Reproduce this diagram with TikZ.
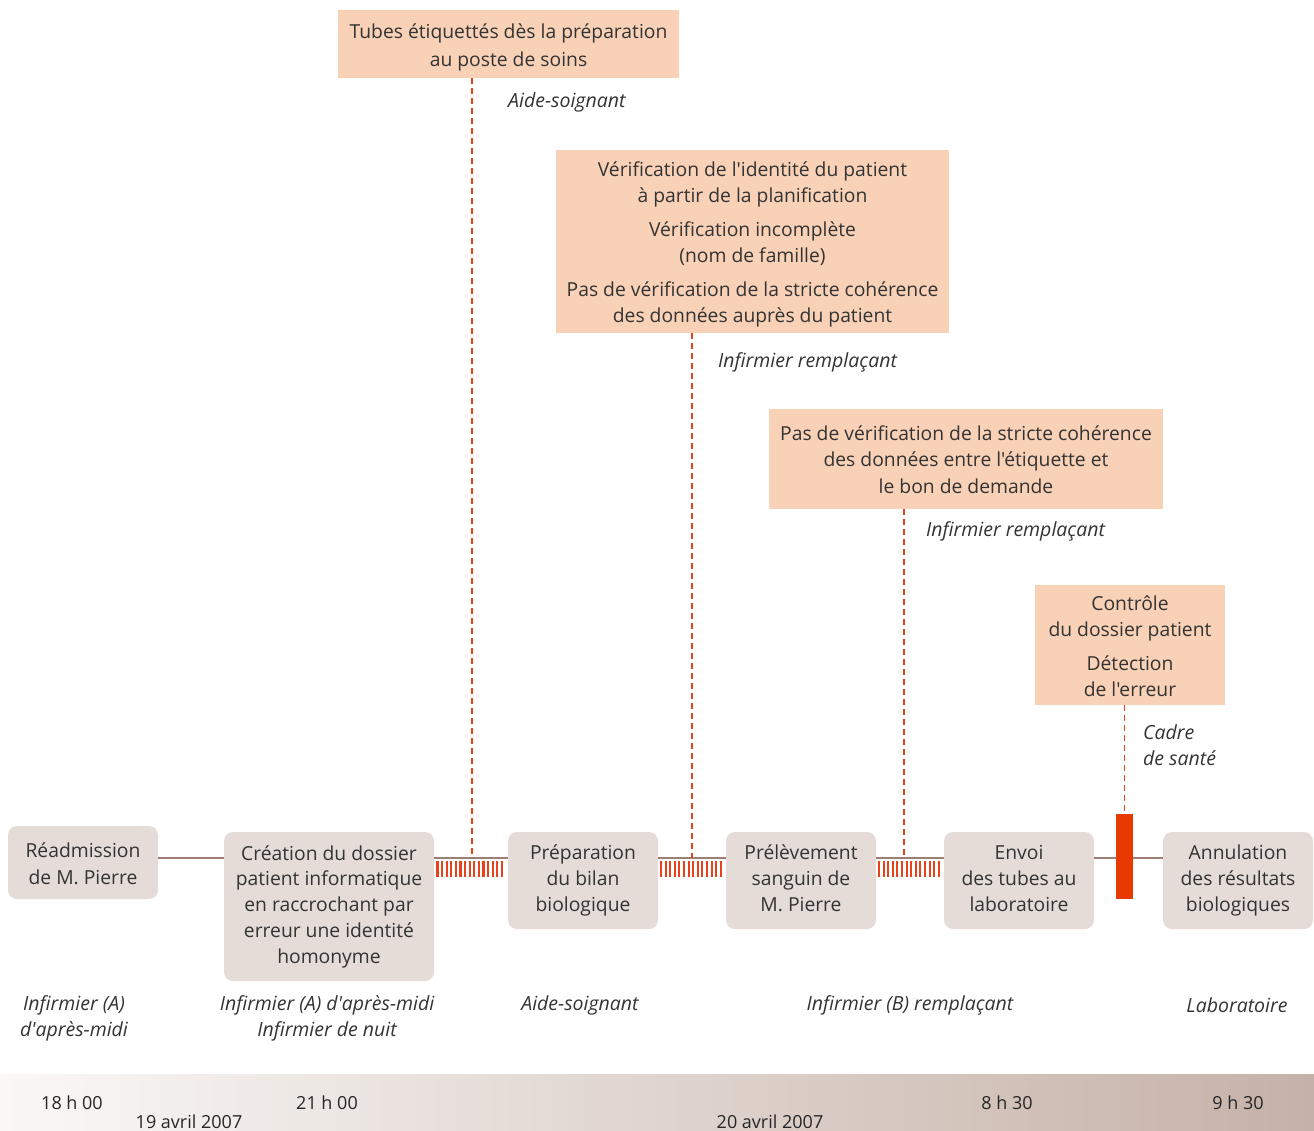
\documentclass[tikz,border=0pt]{standalone}
\usepackage{fontspec}
\setmainfont{Open Sans}[Ligatures=TeXOff]
\usetikzlibrary{calc}
\definecolor{peach}{HTML}{F8D1B7}
\definecolor{greybox}{HTML}{E5DCD8}
\definecolor{txt}{HTML}{333333}
\definecolor{redd}{HTML}{E8411B}
\definecolor{redbar}{HTML}{E83A00}
\definecolor{tline}{HTML}{9E7F75}
\definecolor{gradL}{HTML}{FAF8F7}
\definecolor{gradR}{HTML}{C5B1A7}
\newcommand{\dstrut}{\rule[-4.6pt]{0pt}{26pt}}
\tikzset{
  evbox/.style={fill=peach, text=txt, align=center, inner sep=0pt, font=\fontsize{19.3}{26}\selectfont},
  stepbox/.style={fill=greybox, rounded corners=9pt, text=txt, align=center, inner sep=0pt, minimum width=150pt, font=\fontsize{19.3}{25.7}\selectfont},
  actor/.style={text=txt, font=\fontsize{19.5}{26}\selectfont\itshape, inner sep=0pt},
  tlab/.style={text=black!85, font=\fontsize{18}{20}\selectfont, inner sep=0pt},
  redash/.style={draw=redd, line width=1.3pt, dash pattern=on 6pt off 4pt},
  hatch/.style={draw=redd, line width=2.1pt},
}
\begin{document}
\begin{tikzpicture}[x=1pt,y=-1pt]
\useasboundingbox (0,0) rectangle (1314,1131);
% bottom gradient band
\shade[left color=gradL, right color=gradR] (0,1074) rectangle (1314,1131);
% timeline
\coordinate (tl) at (0,858);
% event boxes
\node[evbox, minimum width=341pt, minimum height=68pt] (e1) at (508.5,44) {\dstrut Tubes étiquettés dès la préparation\\[1pt]au poste de soins\dstrut};
\node[evbox, minimum width=393pt, minimum height=183pt] (e2) at (752.5,241.5) {\dstrut Vérification de l'identité du patient\\à partir de la planification\\[8pt]Vérification incomplète\\(nom de famille)\\[8pt]Pas de vérification de la stricte cohérence\\des données auprès du patient\dstrut};
\node[evbox, minimum width=394pt, minimum height=100pt] (e3) at (966,459) {\dstrut Pas de vérification de la stricte cohérence\\des données entre l'étiquette et\\le bon de demande\dstrut};
\node[evbox, minimum width=190pt, minimum height=120pt] (e4) at (1130,645) {\dstrut Contrôle\\du dossier patient\\[8pt]Détection\\de l'erreur\dstrut};
% actor labels of events
\node[actor, anchor=west] (a1) at (508,102) {Aide-soignant};
\node[actor, anchor=west] (a2) at (718,362) {Infirmier remplaçant};
\node[actor, anchor=west] (a3) at (926,531) {Infirmier remplaçant};
\node[actor, anchor=west, align=left] (a4) at (1143,745) {Cadre\\de santé};
% step boxes
\node[stepbox, minimum height=73pt] (s1) at (83,862.5) {\dstrut Réadmission\\de M. Pierre\dstrut};
\node[stepbox, minimum width=210pt, minimum height=149pt] (s2) at (329,906.5) {\strut Création du dossier\\patient informatique\\en raccrochant par\\erreur une identité\\homonyme\strut};
\node[stepbox, minimum height=97pt] (s3) at (583,880.5) {\strut Préparation\\du bilan\\biologique\strut};
\node[stepbox, minimum height=97pt] (s4) at (801,880.5) {\strut Prélèvement\\sanguin de\\M. Pierre\strut};
\node[stepbox, minimum height=97pt] (s5) at (1019,880.5) {\strut Envoi\\des tubes au\\laboratoire\strut};
\node[stepbox, minimum height=97pt] (s6) at (1238,880.5) {\strut Annulation\\des résultats\\biologiques\strut};
% timeline segments
\draw[tline, line width=2pt] (s1.east |- tl) -- (s2.west |- tl);
\draw[tline, line width=2pt] (s2.east |- tl) -- (s3.west |- tl);
\draw[tline, line width=2pt] (s3.east |- tl) -- (s4.west |- tl);
\draw[tline, line width=2pt] (s4.east |- tl) -- (s5.west |- tl);
\draw[tline, line width=2pt] (s5.east |- tl) -- (s6.west |- tl);
% hatched bands
\foreach \x in {437.5,442.1,...,506} \draw[hatch] (\x,861) -- (\x,877);
\foreach \x in {661,665.6,...,724} \draw[hatch] (\x,861) -- (\x,877);
\foreach \x in {879,883.6,...,942} \draw[hatch] (\x,861) -- (\x,877);
% red bar
\node[fill=redbar, minimum width=17pt, minimum height=85pt, inner sep=0pt] (rb) at (1124.5,856.5) {};
% dashed connectors
\coordinate (c1) at (472,858);
\coordinate (c2) at (692,858);
\coordinate (c3) at (904,858);
\draw[redash] (e1.south -| c1) -- (c1);
\draw[redash] (e2.south -| c2) -- (c2);
\draw[redash] (e3.south -| c3) -- (c3);
\draw[redash] (e4.south -| rb.north) -- (rb.north);
% actor labels of steps
\node[actor, align=center] (b1) at (74,1018) {Infirmier (A)\\d'après-midi};
\node[actor, align=center] (b2) at (327,1018) {Infirmier (A) d'après-midi\\Infirmier de nuit};
\node[actor] (b3) at (580,1005) {Aide-soignant};
\node[actor] (b4) at (910,1005) {Infirmier (B) remplaçant};
\node[actor] (b5) at (1237,1005) {Laboratoire};
% time labels
\node[tlab] (t1) at (72,1103) {18 h 00};
\node[tlab] (d1) at (189,1122) {19 avril 2007};
\node[tlab] (t2) at (327,1103) {21 h 00};
\node[tlab] (d2) at (770,1122) {20 avril 2007};
\node[tlab] (t3) at (1007,1103) {8 h 30};
\node[tlab] (t4) at (1238,1103) {9 h 30};
\end{tikzpicture}
\end{document}
